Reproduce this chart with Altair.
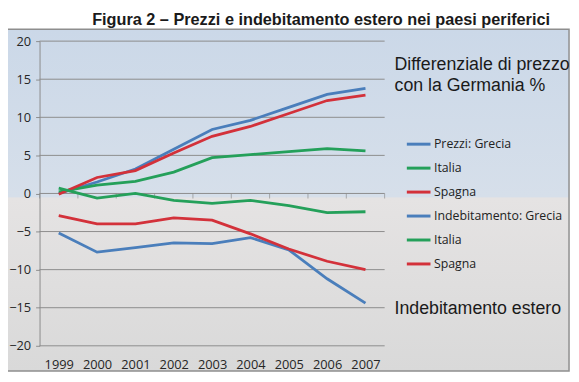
import altair as alt
import pandas as pd

# ---- data ----
anni = [1999, 2000, 2001, 2002, 2003, 2004, 2005, 2006, 2007]
prezzi_grecia = [0.0, 1.5, 3.2, 5.8, 8.4, 9.6, 11.3, 13.0, 13.8]
prezzi_italia = [0.2, 1.1, 1.6, 2.8, 4.7, 5.1, 5.5, 5.9, 5.6]
prezzi_spagna = [-0.1, 2.1, 3.0, 5.3, 7.5, 8.8, 10.5, 12.2, 12.9]
debito_grecia = [-5.2, -7.7, -7.1, -6.5, -6.6, -5.8, -7.4, -11.2, -14.4]
debito_italia = [0.7, -0.6, 0.0, -0.9, -1.3, -0.9, -1.6, -2.5, -2.4]
debito_spagna = [-2.9, -4.0, -4.0, -3.2, -3.5, -5.3, -7.3, -8.9, -10.0]

serie_nomi = ["Prezzi: Grecia", "Prezzi: Italia", "Prezzi: Spagna",
              "Indebitamento: Grecia", "Indebitamento: Italia", "Indebitamento: Spagna"]
serie_valori = [prezzi_grecia, prezzi_italia, prezzi_spagna,
                debito_grecia, debito_italia, debito_spagna]
colori = ["#4a7ebb", "#24a05a", "#d3313a", "#4a7ebb", "#24a05a", "#d3313a"]

y_tacche = [-20, -15, -10, -5, 0, 5, 10, 15, 20]
bordi_categorie = [1998.5, 1999.5, 2000.5, 2001.5, 2002.5, 2003.5,
                   2004.5, 2005.5, 2006.5, 2007.5]

titolo = "Figura 2 \u2013 Prezzi e indebitamento estero nei paesi periferici"
nota_prezzi_1 = "Differenziale di prezzo"
nota_prezzi_2 = "con la Germania %"
nota_debito = "Indebitamento estero"

rows = []
for nome, valori in zip(serie_nomi, serie_valori):
    for a, v in zip(anni, valori):
        rows.append({"anno": a, "valore": v, "serie": nome})
df = pd.DataFrame(rows)

GRID = "#8c8c8c"
x_scale = alt.Scale(domain=[1998.5, 2007.5], nice=False, zero=False)
y_scale = alt.Scale(domain=[-20, 20], nice=False)
x_axis = alt.Axis(values=anni, format="d", grid=False, ticks=False, domain=False,
                  labelPadding=13, title=None, labelFontSize=13, zindex=1,
                  labelOverlap=False,
                  labelFont="Open Sans", labelColor="#262626")
y_axis = alt.Axis(values=y_tacche, grid=False, domainColor=GRID, tickColor=GRID,
                  tickSize=4, labelPadding=5, title=None, labelFontSize=13,
                  zindex=1, labelOverlap=False,
                  labelFont="Open Sans", labelColor="#262626")

sfondo = alt.Chart(pd.DataFrame({"k": [0]})).mark_rect(
    color=alt.Gradient(
        gradient="linear", x1=0, x2=0, y1=0, y2=1,
        stops=[alt.GradientStop(offset=0, color="#cbd8e8"),
               alt.GradientStop(offset=0.49, color="#d6dfea"),
               alt.GradientStop(offset=0.494, color="#e5e3e3"),
               alt.GradientStop(offset=1, color="#d9d9d9")]),
    stroke="#8e8e8e", strokeWidth=1.5
).encode(x=alt.value(-33), x2=alt.value(537), y=alt.value(-12), y2=alt.value(334.5))

griglia = alt.Chart(pd.DataFrame({"valore": y_tacche})).mark_rule(
    color=GRID, strokeWidth=1
).encode(y=alt.Y("valore:Q", scale=y_scale, axis=y_axis))

tacche = alt.Chart(pd.DataFrame({"anno": bordi_categorie})).mark_tick(
    orient="vertical", size=5, thickness=1, color=GRID, yOffset=2.5
).encode(
    x=alt.X("anno:Q", scale=x_scale, axis=x_axis),
    y=alt.YDatum(0, scale=y_scale, axis=y_axis),
)

linee = alt.Chart(df).mark_line(strokeWidth=2.8).encode(
    x=alt.X("anno:Q", scale=x_scale, axis=x_axis),
    y=alt.Y("valore:Q", scale=y_scale, axis=y_axis),
    color=alt.Color(
        "serie:N",
        scale=alt.Scale(domain=serie_nomi, range=colori),
        sort=serie_nomi,
        legend=alt.Legend(
            orient="none", legendX=371, legendY=91, title=None,
            symbolType="stroke", symbolSize=576, symbolStrokeWidth=3,
            labelFont="Open Sans", labelFontSize=12.5, labelColor="#222222",
            rowPadding=4.3, padding=0, labelOffset=2,
            labelExpr="indexof(datum.label, 'Grecia') >= 0 ? datum.label : split(datum.label, ': ')[1]",
        ),
    ),
)


def testo(t, x, y, size, weight="normal", align="left", font="Liberation Sans"):
    return alt.Chart(pd.DataFrame({"t": [t]})).mark_text(
        align=align, baseline="alphabetic", fontSize=size, font=font,
        fontWeight=weight, color="#1a1a1a"
    ).encode(text="t:N", x=alt.value(x), y=alt.value(y))


chart = alt.layer(
    sfondo,
    griglia,
    tacche,
    linee,
    testo(nota_prezzi_1, 360, 29, 18),
    testo(nota_prezzi_2, 360, 51, 18),
    testo(nota_debito, 360, 277, 18),
    testo(titolo, 285.5, -16.5, 16.5, weight="bold", align="center", font="Liberation Sans"),
).properties(
    width=350, height=309,
    padding={"left": 32, "top": 31, "right": 189, "bottom": 26},
    autosize=alt.AutoSizeParams(type="none"),
    background="white",
).configure_view(stroke=None)

chart.save("out.html", embed_options={"renderer": "svg", "actions": False})
